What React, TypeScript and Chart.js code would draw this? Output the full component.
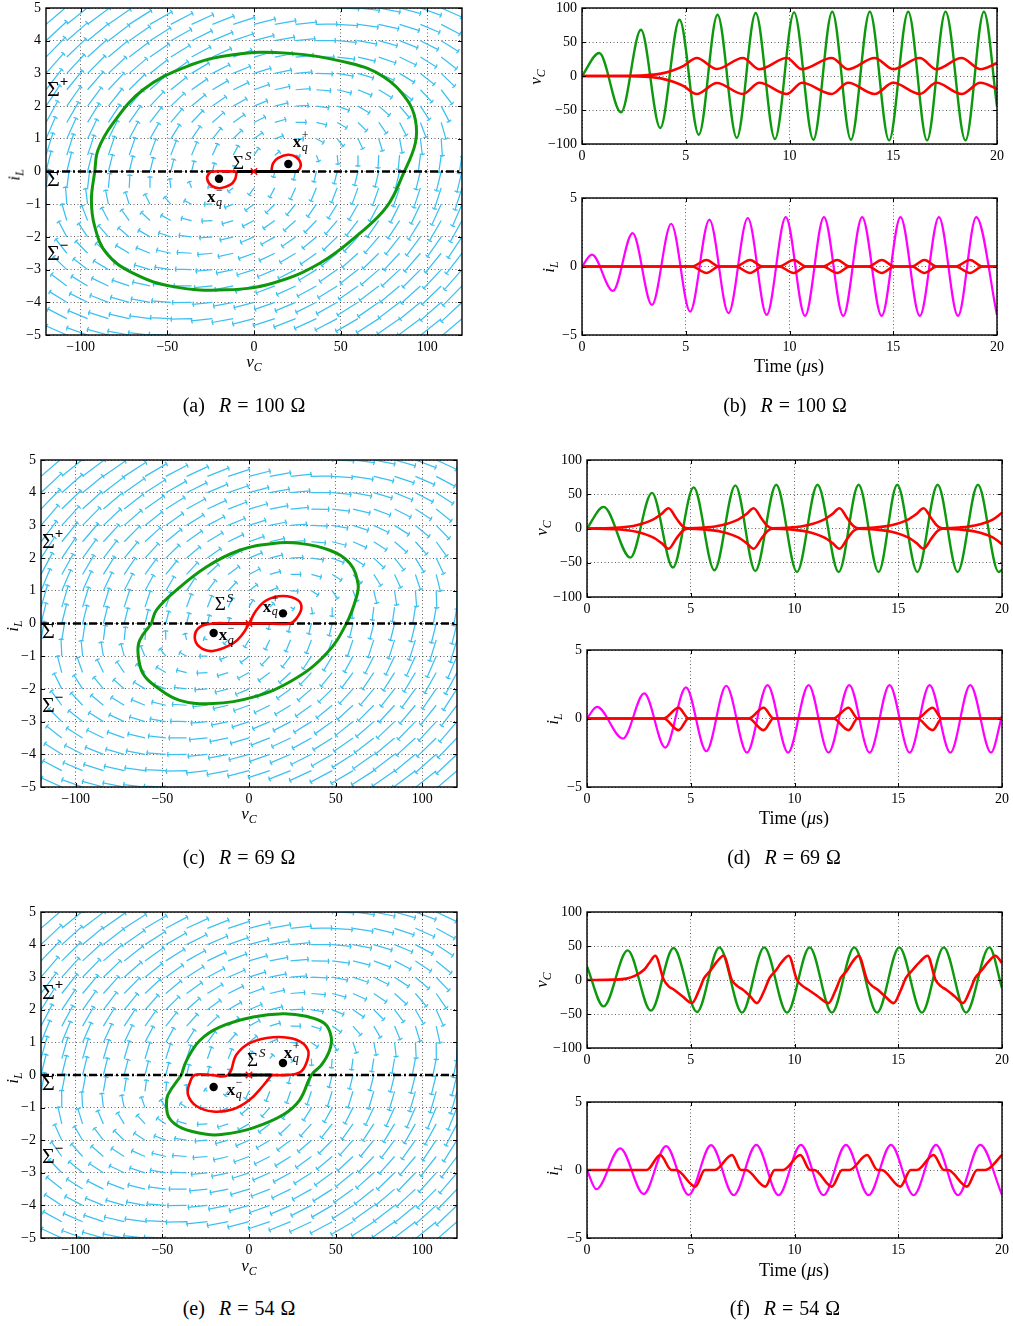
import React, { useEffect, useRef } from 'react';
import { Chart, registerables } from 'chart.js';

Chart.register(...registerables);

const FONT = '"Liberation Serif", "Times New Roman", Times, serif';
const GREEN = '#0e980e';
const RED = '#ff0000';
const MAGENTA = '#ff00ff';
const QUIVER = '#3cc0f0';
const GRID = 'rgba(30,30,30,0.7)';

const PAD_L = 60, PAD_R = 22, PAD_T = 14, PAD_B = 32;

// ---------------- tick labels ----------------
const vTicks = [-100, -50, 0, 50, 100];
const iTicks = [-5, -4, -3, -2, -1, 0, 1, 2, 3, 4, 5];
const tTicks = [0, 5, 10, 15, 20];
const vcTicks = [-100, -50, 0, 50, 100];
const ilTicks = [-5, 0, 5];

// ---------------- phase-plane vector field ----------------
const quiverV = [-120, -108, -96, -84, -72, -60, -48, -36, -24, -12, 0, 12, 24, 36, 48, 60, 72, 84, 96, 108, 120];
const quiverI = [-5, -4.5, -4, -3.5, -3, -2.5, -2, -1.5, -1, -0.5, 0, 0.5, 1, 1.5, 2, 2.5, 3, 3.5, 4, 4.5, 5];
// linear dynamics about the equilibrium of each region: [dv, di] = A [v - vq, i - iq]
const sysA = [-0.18, 26, -0.0385, 0.18];
const ARROW_MAX = 30;
const ARROW_GAMMA = 0.55;

// switching line Sigma (i_L = 0)
const sigmaLineV = [-120, 120];
const sigmaLineI = [0, 0];
const sideLabelI = [2.5, -0.27, -2.53];

// ---------------- (a) R = 100 ----------------
const aEqPlus = [19.8, 0.23];
const aEqMinus = [-20.2, -0.22];
const aGreenV = [-91.9, -93.8, -91.9, -85.1, -69.8, -46.6, -15.8, 11.2, 38.2, 61.3, 76.7, 86.3, 93.1, 93.1, 88.3, 74.7, 55.5, 18.9, -12, -38.9, -64, -81.3, -90, -91.9];
const aGreenI = [0, -0.87, -1.68, -2.5, -3.11, -3.52, -3.62, -3.41, -2.8, -1.88, -1.07, -0.05, 0.87, 1.58, 2.19, 2.9, 3.31, 3.62, 3.57, 3.21, 2.5, 1.48, 0.66, 0];
const aRedLV = [-10, -11, -13.8, -19.6, -24.4, -27, -25.8, -23.5, -10];
const aRedLI = [0, -0.25, -0.41, -0.51, -0.44, -0.23, -0.05, 0, 0];
const aRedRV = [10, 11, 13.8, 19.6, 24.4, 27, 25.8, 23.5, 10];
const aRedRI = [0, 0.25, 0.41, 0.51, 0.44, 0.23, 0.05, 0, 0];
const aSlide = [-10, 26];
const aLabSigmaS = [-12.1, 0.24];
const aLabXqP = [22.3, 0.88];
const aLabXqM = [-27.1, -0.8];

// ---------------- (c) R = 69 ----------------
const cEqPlus = [19.6, 0.31];
const cEqMinus = [-20.4, -0.29];
const cGreenV = [-56.3, -63, -64, -61.2, -53.4, -40, -20.8, 2.3, 25.4, 44.7, 56.2, 62, 62.9, 58.1, 46.6, 29.3, 13.8, -5.4, -24.6, -41.9, -53.4, -56.3];
const cGreenI = [0, -0.51, -0.92, -1.53, -1.94, -2.35, -2.45, -2.25, -1.73, -0.92, 0, 0.81, 1.22, 1.84, 2.24, 2.45, 2.45, 2.24, 1.73, 1.02, 0.41, 0];
const cRedV = [0, 12, 23.5, 27.3, 30.2, 28.3, 19.6, 10, 4.3, 0, -3.5, -9.2, -20.8, -28.4, -31.3, -28.4, -20.8, -10, 0];
const cRedI = [0, 0, 0, 0.15, 0.46, 0.71, 0.84, 0.71, 0.41, 0, -0.31, -0.61, -0.84, -0.72, -0.41, -0.11, 0, 0, 0];
const cSlide = [-21, 25];
const cLabSigmaS = [-19.8, 0.56];
const cLabXqP = [7.9, 0.5];
const cLabXqM = [-17.5, -0.37];

// ---------------- (e) R = 54 ----------------
const eEqPlus = [19.6, 0.37];
const eEqMinus = [-20.4, -0.37];
const eGreenV = [-39, -46.7, -47.6, -46, -39, -24.5, -14.9, 2.4, 19.7, 29.3, 36, 41.7, 46.5, 47.4, 43.6, 33, 19.7, 2.4, -16.9, -28.4, -36, -39];
const eGreenI = [0, -0.6, -0.91, -1.32, -1.62, -1.82, -1.82, -1.62, -1.22, -0.76, 0, 0.3, 0.76, 1.17, 1.58, 1.8, 1.88, 1.78, 1.47, 1.06, 0.45, 0];
const eRedV = [13, 8.1, 0.4, -9.2, -20.8, -30.4, -35.2, -34.2, -31.3, -22, -12.1, -7.3, 0.4, 13.8, 27.3, 34, 33.1, 29.3, 21.6, 13];
const eRedI = [0, -0.33, -0.76, -1.05, -1.12, -0.95, -0.6, -0.25, 0, 0, 0, 0.62, 0.98, 1.16, 1.08, 0.77, 0.37, 0.08, 0, 0];
const eSlide = [-12, 13];
const eLabSigmaS = [-1.2, 0.44];
const eLabXqP = [20, 0.65];
const eLabXqM = [-12.9, -0.47];

// ---------------- (b) R = 100, time series ----------------
const bVcT = [0, 0.83, 1.88, 2.84, 3.77, 4.7, 5.63, 6.53, 7.46, 8.37, 9.3, 10.22, 11.15, 12.06, 12.96, 13.87, 14.8, 15.72, 16.63, 17.52, 18.48, 19.37, 20];
const bVcGreen = [0, 33.8, -53.5, 68, -76.5, 82.8, -86.3, 90, -91, 92.6, -92.6, 93.5, -93.7, 94.5, -93.7, 94.5, -94.7, 94.5, -94.7, 94.5, -94.7, 94.5, -44.7];
const bRedT = [0, 2.0, 3.0, 3.8, 4.4, 4.9, 5.53, 6.5, 7.75, 8.55, 9.87, 10.6, 12.03, 12.83, 14.1, 15.0, 16.28, 17.08, 18.29, 19.2, 20];
const bRedUp = [0, 0.3, 1, 3.5, 8.5, 15, 26.5, 10.3, 26.5, 10, 26.5, 10, 26.5, 10, 26.5, 10, 26.5, 10, 26.5, 10, 19];
const bRedLo = [0, -0.3, -1, -3.5, -8.5, -15, -26.5, -10.3, -26.5, -10, -26.5, -10, -26.5, -10, -26.5, -10, -26.5, -10, -26.5, -10, -19];
const bIlT = [0, 0.48, 1.49, 2.44, 3.37, 4.3, 5.21, 6.14, 7.06, 7.99, 8.9, 9.82, 10.75, 11.66, 12.59, 13.5, 14.44, 15.35, 16.28, 17.2, 18.12, 19.0, 20];
const bIl = [0, 0.86, -1.78, 2.44, -2.8, 3.12, -3.29, 3.42, -3.41, 3.54, -3.53, 3.61, -3.61, 3.61, -3.61, 3.61, -3.61, 3.61, -3.61, 3.61, -3.61, 3.61, -3.55];
const bIlRedT = [0, 5.3, 6.0, 6.6, 7.4, 8.1, 8.7, 9.5, 10.2, 10.8, 11.6, 12.3, 12.9, 13.8, 14.45, 15.05, 15.9, 16.5, 17.1, 18.0, 18.7, 19.3, 20];
const bIlRedUp = [0, 0, 0.47, 0, 0, 0.47, 0, 0, 0.47, 0, 0, 0.47, 0, 0, 0.47, 0, 0, 0.47, 0, 0, 0.47, 0, 0];
const bIlRedLo = [0, 0, -0.47, 0, 0, -0.47, 0, 0, -0.47, 0, 0, -0.47, 0, 0, -0.47, 0, 0, -0.47, 0, 0, -0.47, 0, 0];

// ---------------- (d) R = 69, time series ----------------
const dVcT = [0, 0.8, 2.09, 3.13, 4.14, 5.14, 6.14, 7.15, 8.11, 9.12, 10.12, 11.11, 12.13, 13.09, 14.05, 14.95, 15.92, 16.9, 17.86, 18.84, 19.84, 20];
const dVcGreen = [0, 31.6, -42.5, 52, -57, 60, -61, 63, -62, 63.8, -63.5, 63.8, -63.5, 63.8, -63.5, 63.8, -63.5, 63.8, -63.5, 63.8, -63.5, -60];
const dRedT = [0, 1.58, 2.38, 3.18, 3.58, 3.93, 4.3, 4.6, 4.85, 5.68, 6.48, 7.28, 7.68, 8.03, 8.4, 8.7, 8.95, 9.82, 10.62, 11.42, 11.82, 12.17, 12.54, 12.84, 13.09, 13.87, 14.67, 15.47, 15.87, 16.22, 16.59, 16.89, 17.14, 17.95, 18.75, 19.55, 20];
const dRedUp = [0, 1.5, 4.8, 13, 21, 29.5, 15, 3.5, 0.3, 1.5, 4.8, 13, 21, 29.5, 15, 3.5, 0.3, 1.5, 4.8, 13, 21, 29.5, 15, 3.5, 0.3, 1.5, 4.8, 13, 21, 29.5, 15, 3.5, 0.3, 1.5, 4.8, 13, 23];
const dRedLo = [0, -1.5, -4.8, -13, -21, -29.5, -15, -3.5, -0.3, -1.5, -4.8, -13, -21, -29.5, -15, -3.5, -0.3, -1.5, -4.8, -13, -21, -29.5, -15, -3.5, -0.3, -1.5, -4.8, -13, -21, -29.5, -15, -3.5, -0.3, -1.5, -4.8, -13, -23];
const dIlT = [0, 0.48, 1.73, 2.76, 3.77, 4.77, 5.75, 6.71, 7.71, 8.7, 9.69, 10.68, 11.64, 12.64, 13.62, 14.58, 15.55, 16.51, 17.51, 18.47, 19.47, 20];
const dIl = [0, 0.85, -1.46, 1.83, -2.12, 2.27, -2.39, 2.39, -2.49, 2.44, -2.49, 2.44, -2.49, 2.44, -2.49, 2.44, -2.49, 2.44, -2.49, 2.44, -2.49, 0.2];
const dIlRedT = [0, 3.69, 4.41, 4.9, 7.79, 8.51, 8.99, 11.86, 12.61, 13.04, 15.9, 16.66, 17.1, 20];
const dIlRedUp = [0, 0, 0.78, 0, 0, 0.78, 0, 0, 0.78, 0, 0, 0.78, 0, 0];
const dIlRedLo = [0, 0, -0.85, 0, 0, -0.85, 0, 0, -0.85, 0, 0, -0.85, 0, 0];

// ---------------- (f) R = 54, time series ----------------
const fVcT = [0, 0.8, 1.96, 3.08, 4.17, 5.3, 6.38, 7.47, 8.54, 9.64, 10.73, 11.8, 12.88, 13.98, 15.05, 16.14, 17.19, 18.27, 19.39, 20];
const fVcGreen = [20, -38.8, 43.5, -45.1, 47, -47, 48, -48, 48, -48, 48, -48, 48, -48, 48, -48, 48, -48, 48, -11.8];
const fRedT = [0, 1.3, 1.9, 2.3, 2.75, 3.0, 3.29, 3.7, 3.94, 4.18, 4.58, 5.06, 5.4, 5.65, 5.95, 6.26, 6.58, 6.98, 7.25, 7.5, 7.85, 8.19, 8.55, 8.8, 9.1, 9.4, 9.72, 10.12, 10.4, 10.65, 11.1, 11.64, 11.98, 12.23, 12.53, 12.8, 13.09, 13.5, 13.75, 14.0, 14.35, 14.78, 15.12, 15.37, 15.67, 16.05, 16.41, 16.8, 17.05, 17.3, 17.7, 18.12, 18.46, 18.71, 19.01, 19.35, 19.68, 20];
const fRed = [0, 0.5, 2, 6, 15, 25, 35.7, 0.4, -9.3, -14, -23.5, -33.8, -15, 3, 14, 27, 35.7, 0, -9, -14, -23.5, -34, -15, 3, 14, 27, 35.7, 0, -9, -14, -23.5, -34, -15, 3, 14, 27, 35.7, 0, -9, -14, -23.5, -34, -15, 3, 14, 27, 35.7, 0, -9, -14, -23.5, -34, -15, 3, 14, 27, 35.7, 25];
const fIlT = [0, 0.45, 1.6, 2.73, 3.81, 4.9, 5.98, 7.07, 8.16, 9.23, 10.31, 11.4, 12.48, 13.57, 14.65, 15.74, 16.82, 17.88, 18.95, 20];
const fIl = [0, -1.41, 1.59, -1.76, 1.76, -1.83, 1.83, -1.85, 1.85, -1.85, 1.85, -1.85, 1.85, -1.85, 1.85, -1.85, 1.85, -1.85, 1.85, -1.83];
const fIlRedT = [0, 2.88, 3.53, 4.07, 4.3, 5.22, 5.68, 6.16, 6.99, 7.42, 7.66, 8.59, 9.05, 9.45, 10.28, 10.75, 10.95, 11.8, 12.3, 12.65, 13.5, 14.0, 14.2, 15.1, 15.6, 15.9, 16.7, 17.2, 17.4, 18.31, 18.8, 19.2, 20];
const fIlRed = [0, 0, 1.1, 0, 0, -1.22, 0, 0, 1.1, 0, 0, -1.22, 0, 0, 1.1, 0, 0, -1.22, 0, 0, 1.1, 0, 0, -1.22, 0, 0, 1.1, 0, 0, -1.22, 0, 0, 1.1];

// ---------------- layout boxes (plot areas) ----------------
const BOX_A = { left: 46, top: 8, width: 416, height: 327 };
const BOX_C = { left: 41, top: 460, width: 416, height: 327 };
const BOX_E = { left: 41, top: 912, width: 416, height: 326 };
const BOX_B1 = { left: 582, top: 8, width: 415, height: 136 };
const BOX_B2 = { left: 582, top: 198, width: 415, height: 137 };
const BOX_D1 = { left: 587, top: 460, width: 415, height: 137 };
const BOX_D2 = { left: 587, top: 650, width: 415, height: 137 };
const BOX_F1 = { left: 587, top: 912, width: 415, height: 136 };
const BOX_F2 = { left: 587, top: 1102, width: 415, height: 136 };

// ---------------- helpers ----------------
const fmt = (v: number) => (v < 0 ? '\u2212' + Math.abs(v) : String(v));
const pts = (xs: number[], ys: number[]) => xs.map((x, k) => ({ x, y: ys[k] }));

function axis(min: number, max: number, ticks: number[], horizontal: boolean) {
  return {
    type: 'linear',
    min,
    max,
    afterBuildTicks: (ax: any) => {
      ax.ticks = ticks.map((value) => ({ value }));
    },
    afterFit: (ax: any) => {
      if (horizontal) ax.height = PAD_B;
      else ax.width = PAD_L;
    },
    ticks: {
      callback: (v: any) => fmt(Number(v)),
      font: { family: FONT, size: 14 },
      color: '#000',
      padding: horizontal ? 4 : 5,
      maxRotation: 0,
      minRotation: 0,
      autoSkip: false,
    },
    grid: { color: GRID, lineWidth: 1, drawTicks: false },
    border: { display: false, dash: [1, 2.5] },
  };
}

const framePlugin = {
  id: 'frame',
  afterDatasetsDraw(chart: any) {
    const { ctx, chartArea: a } = chart;
    const xs = chart.scales.x, ys = chart.scales.y;
    ctx.save();
    ctx.strokeStyle = '#000';
    ctx.lineWidth = 1;
    ctx.beginPath();
    for (const t of xs.ticks) {
      const p = Math.round(xs.getPixelForValue(t.value)) + 0.5;
      ctx.moveTo(p, a.bottom); ctx.lineTo(p, a.bottom - 4);
      ctx.moveTo(p, a.top); ctx.lineTo(p, a.top + 4);
    }
    for (const t of ys.ticks) {
      const p = Math.round(ys.getPixelForValue(t.value)) + 0.5;
      ctx.moveTo(a.left, p); ctx.lineTo(a.left + 4, p);
      ctx.moveTo(a.right, p); ctx.lineTo(a.right - 4, p);
    }
    ctx.stroke();
    ctx.lineWidth = 1.4;
    ctx.strokeRect(a.left, a.top, a.right - a.left, a.bottom - a.top);
    ctx.restore();
  },
};

function makeQuiverPlugin(A: number[], eqP: number[], eqM: number[]) {
  return {
    id: 'quiver',
    beforeDatasetsDraw(chart: any) {
      const { ctx, chartArea: a } = chart;
      const xs = chart.scales.x, ys = chart.scales.y;
      const pxV = Math.abs(xs.getPixelForValue(1) - xs.getPixelForValue(0));
      const pxI = Math.abs(ys.getPixelForValue(1) - ys.getPixelForValue(0));
      const gV = quiverV[1] - quiverV[0];
      const gI = quiverI[1] - quiverI[0];
      const arrows: number[][] = [];
      let maxG = 0;
      for (const v of quiverV) {
        for (const i of quiverI) {
          const eq = i > 0 ? eqP : i < 0 ? eqM : [0, 0];
          const dv = A[0] * (v - eq[0]) + A[1] * (i - eq[1]);
          const di = A[2] * (v - eq[0]) + A[3] * (i - eq[1]);
          const g = Math.hypot(dv / gV, di / gI);
          if (g > maxG) maxG = g;
          arrows.push([v, i, dv, di, g]);
        }
      }
      ctx.save();
      ctx.beginPath();
      ctx.rect(a.left, a.top, a.right - a.left, a.bottom - a.top);
      ctx.clip();
      ctx.strokeStyle = QUIVER;
      ctx.lineWidth = 1.25;
      ctx.beginPath();
      for (const [v, i, dv, di, g] of arrows) {
        const x0 = xs.getPixelForValue(v), y0 = ys.getPixelForValue(i);
        let ux = dv * pxV, uy = -di * pxI;
        const n = Math.hypot(ux, uy);
        if (n === 0) continue;
        ux /= n; uy /= n;
        const L = ARROW_MAX * Math.pow(g / maxG, ARROW_GAMMA);
        const x1 = x0 + ux * L, y1 = y0 + uy * L;
        ctx.moveTo(x0, y0); ctx.lineTo(x1, y1);
        const hx = -uy, hy = ux;
        ctx.moveTo(x1 - ux * 0.8 + hx * 2.6, y1 - uy * 0.8 + hy * 2.6);
        ctx.lineTo(x1, y1);
        ctx.lineTo(x1 - ux * 0.8 - hx * 2.6, y1 - uy * 0.8 - hy * 2.6);
      }
      ctx.stroke();
      ctx.restore();
    },
  };
}

function makeAnnotPlugin(sigmaS: number[], xqP: number[], xqM: number[]) {
  return {
    id: 'annot',
    afterDatasetsDraw(chart: any) {
      const { ctx, chartArea: a } = chart;
      const xs = chart.scales.x, ys = chart.scales.y;
      ctx.save();
      ctx.fillStyle = '#000';
      ctx.textBaseline = 'middle';
      ctx.textAlign = 'left';
      const sups = ['+', '', '\u2212'];
      sideLabelI.forEach((iv, k) => {
        const y = ys.getPixelForValue(iv);
        ctx.font = `22px ${FONT}`;
        ctx.fillText('\u03A3', a.left + 1, y);
        const w = ctx.measureText('\u03A3').width;
        if (sups[k]) {
          ctx.font = `bold 15px ${FONT}`;
          ctx.fillText(sups[k], a.left + 1 + w, y - 8);
        }
      });
      let x = xs.getPixelForValue(sigmaS[0]);
      let y = ys.getPixelForValue(sigmaS[1]);
      ctx.font = `19px ${FONT}`;
      ctx.fillText('\u03A3', x, y);
      let w = ctx.measureText('\u03A3').width;
      ctx.font = `italic 13px ${FONT}`;
      ctx.fillText('S', x + w + 1, y - 7);
      const items: any[] = [[xqP, '+'], [xqM, '\u2212']];
      for (const [pos, sup] of items) {
        x = xs.getPixelForValue(pos[0]);
        y = ys.getPixelForValue(pos[1]);
        ctx.font = `bold 17px ${FONT}`;
        ctx.fillText('x', x, y);
        w = ctx.measureText('x').width;
        ctx.font = `12px ${FONT}`;
        ctx.fillText(sup, x + w + 0.5, y - 7);
        ctx.font = `italic 12px ${FONT}`;
        ctx.fillText('q', x + w + 0.5, y + 5);
      }
      ctx.restore();
    },
  };
}

function baseOptions(xAxis: any, yAxis: any) {
  return {
    animation: false,
    responsive: false,
    maintainAspectRatio: false,
    events: [],
    layout: { padding: { top: PAD_T, right: PAD_R, left: 0, bottom: 0 } },
    plugins: { legend: { display: false }, tooltip: { enabled: false } },
    scales: { x: xAxis, y: yAxis },
  };
}

function phaseConfig(s: any) {
  const loops = s.loops.map((lp: number[][]) => ({
    data: pts(lp[0], lp[1]),
    showLine: true,
    pointRadius: 0,
    borderColor: RED,
    borderWidth: 2.6,
    tension: 0.4,
    order: 3,
  }));
  const datasets = [
    {
      data: [{ x: 0, y: 0 }],
      showLine: false,
      pointStyle: 'crossRot',
      pointRadius: 4.5,
      pointBorderColor: RED,
      pointBackgroundColor: RED,
      pointBorderWidth: 1.5,
      order: 0,
    },
    {
      data: [{ x: s.eqM[0], y: s.eqM[1] }, { x: s.eqP[0], y: s.eqP[1] }],
      showLine: false,
      pointStyle: 'circle',
      pointRadius: 4.2,
      pointBackgroundColor: '#000',
      pointBorderColor: '#000',
      pointBorderWidth: 0,
      order: 1,
    },
    {
      data: pts(s.slide, sigmaLineI),
      showLine: true,
      pointRadius: 0,
      borderColor: '#000',
      borderWidth: 3,
      order: s.slideOnTop ? 2 : 4,
    },
    ...loops,
    {
      data: pts(sigmaLineV, sigmaLineI),
      showLine: true,
      pointRadius: 0,
      borderColor: '#000',
      borderWidth: 2.4,
      borderDash: [8, 3, 2, 3],
      order: 5,
    },
    {
      data: pts(s.greenV, s.greenI),
      showLine: true,
      pointRadius: 0,
      borderColor: GREEN,
      borderWidth: 3,
      tension: 0.4,
      order: 6,
    },
  ];
  return {
    type: 'scatter',
    data: { datasets },
    options: baseOptions(axis(-120, 120, vTicks, true), axis(-5, 5, iTicks, false)),
    plugins: [makeQuiverPlugin(sysA, s.eqP, s.eqM), framePlugin, makeAnnotPlugin(s.labSigmaS, s.labXqP, s.labXqM)],
  };
}

function timeConfig(yMin: number, yMax: number, yTicks: number[], series: any[]) {
  const datasets = series.map((s, k) => ({
    data: pts(s.t, s.y),
    showLine: true,
    pointRadius: 0,
    borderColor: s.c,
    borderWidth: s.w,
    cubicInterpolationMode: 'monotone',
    order: k,
  }));
  return {
    type: 'scatter',
    data: { datasets },
    options: baseOptions(axis(0, 20, tTicks, true), axis(yMin, yMax, yTicks, false)),
    plugins: [framePlugin],
  };
}

function ChartBox({ box, make }: { box: any; make: () => any }) {
  const ref = useRef<HTMLCanvasElement>(null);
  useEffect(() => {
    const chart = new Chart(ref.current as HTMLCanvasElement, make());
    return () => chart.destroy();
  }, []);
  const w = box.width + PAD_L + PAD_R;
  const h = box.height + PAD_T + PAD_B;
  return (
    <canvas
      ref={ref}
      width={w}
      height={h}
      style={{ position: 'absolute', left: box.left - PAD_L, top: box.top - PAD_T, width: w, height: h }}
    />
  );
}

function TextAt({ x, y, rotate, size, children }: any) {
  return (
    <div
      style={{
        position: 'absolute',
        left: x,
        top: y,
        transform: `translate(-50%, -50%)${rotate ? ' rotate(-90deg)' : ''}`,
        fontFamily: FONT,
        fontSize: size,
        lineHeight: 1,
        whiteSpace: 'nowrap',
        color: '#000',
      }}
    >
      {children}
    </div>
  );
}

function Sym({ b, s }: { b: string; s: string }) {
  return (
    <span>
      <i>{b}</i>
      <i style={{ fontSize: '0.7em', position: 'relative', top: '0.3em' }}>{s}</i>
    </span>
  );
}

function Caption({ x, y, tag, r }: any) {
  return (
    <div
      style={{
        position: 'absolute',
        left: x - 120,
        top: y - 12,
        width: 240,
        textAlign: 'center',
        fontFamily: FONT,
        fontSize: 20,
        lineHeight: '24px',
        whiteSpace: 'nowrap',
        wordSpacing: 1,
      }}
    >
      ({tag})<span style={{ display: 'inline-block', width: 14 }} />
      <i>R</i> = {r} Ω
    </div>
  );
}

const specA = { greenV: aGreenV, greenI: aGreenI, loops: [[aRedLV, aRedLI], [aRedRV, aRedRI]], slide: aSlide, slideOnTop: true, eqP: aEqPlus, eqM: aEqMinus, labSigmaS: aLabSigmaS, labXqP: aLabXqP, labXqM: aLabXqM };
const specC = { greenV: cGreenV, greenI: cGreenI, loops: [[cRedV, cRedI]], slide: cSlide, slideOnTop: false, eqP: cEqPlus, eqM: cEqMinus, labSigmaS: cLabSigmaS, labXqP: cLabXqP, labXqM: cLabXqM };
const specE = { greenV: eGreenV, greenI: eGreenI, loops: [[eRedV, eRedI]], slide: eSlide, slideOnTop: true, eqP: eEqPlus, eqM: eEqMinus, labSigmaS: eLabSigmaS, labXqP: eLabXqP, labXqM: eLabXqM };

export default function App() {
  return (
    <div style={{ position: 'absolute', left: 0, top: 0, width: 1013, height: 1326, background: '#fff', overflow: 'hidden' }}>
      <ChartBox box={BOX_A} make={() => phaseConfig(specA)} />
      <ChartBox box={BOX_C} make={() => phaseConfig(specC)} />
      <ChartBox box={BOX_E} make={() => phaseConfig(specE)} />

      <ChartBox box={BOX_B1} make={() => timeConfig(-100, 100, vcTicks, [
        { t: bRedT, y: bRedUp, c: RED, w: 2.6 },
        { t: bRedT, y: bRedLo, c: RED, w: 2.6 },
        { t: bVcT, y: bVcGreen, c: GREEN, w: 2.4 },
      ])} />
      <ChartBox box={BOX_B2} make={() => timeConfig(-5, 5, ilTicks, [
        { t: bIlRedT, y: bIlRedUp, c: RED, w: 2.6 },
        { t: bIlRedT, y: bIlRedLo, c: RED, w: 2.6 },
        { t: bIlT, y: bIl, c: MAGENTA, w: 2.2 },
      ])} />
      <ChartBox box={BOX_D1} make={() => timeConfig(-100, 100, vcTicks, [
        { t: dRedT, y: dRedUp, c: RED, w: 2.6 },
        { t: dRedT, y: dRedLo, c: RED, w: 2.6 },
        { t: dVcT, y: dVcGreen, c: GREEN, w: 2.4 },
      ])} />
      <ChartBox box={BOX_D2} make={() => timeConfig(-5, 5, ilTicks, [
        { t: dIlRedT, y: dIlRedUp, c: RED, w: 2.6 },
        { t: dIlRedT, y: dIlRedLo, c: RED, w: 2.6 },
        { t: dIlT, y: dIl, c: MAGENTA, w: 2.2 },
      ])} />
      <ChartBox box={BOX_F1} make={() => timeConfig(-100, 100, vcTicks, [
        { t: fRedT, y: fRed, c: RED, w: 2.6 },
        { t: fVcT, y: fVcGreen, c: GREEN, w: 2.4 },
      ])} />
      <ChartBox box={BOX_F2} make={() => timeConfig(-5, 5, ilTicks, [
        { t: fIlRedT, y: fIlRed, c: RED, w: 2.6 },
        { t: fIlT, y: fIl, c: MAGENTA, w: 2.2 },
      ])} />

      <TextAt x={254} y={361} size={17}><Sym b="v" s="C" /></TextAt>
      <TextAt x={249} y={813} size={17}><Sym b="v" s="C" /></TextAt>
      <TextAt x={249} y={1265} size={17}><Sym b="v" s="C" /></TextAt>
      <TextAt x={14} y={175} size={17} rotate><Sym b="i" s="L" /></TextAt>
      <TextAt x={12} y={626} size={17} rotate><Sym b="i" s="L" /></TextAt>
      <TextAt x={12} y={1078} size={17} rotate><Sym b="i" s="L" /></TextAt>

      <TextAt x={535} y={77} size={17} rotate><Sym b="v" s="C" /></TextAt>
      <TextAt x={541} y={528} size={17} rotate><Sym b="v" s="C" /></TextAt>
      <TextAt x={541} y={980} size={17} rotate><Sym b="v" s="C" /></TextAt>
      <TextAt x={548} y={267} size={17} rotate><Sym b="i" s="L" /></TextAt>
      <TextAt x={552} y={719} size={17} rotate><Sym b="i" s="L" /></TextAt>
      <TextAt x={552} y={1170} size={17} rotate><Sym b="i" s="L" /></TextAt>

      <TextAt x={789} y={366} size={18}>Time (<i>μ</i>s)</TextAt>
      <TextAt x={794} y={818} size={18}>Time (<i>μ</i>s)</TextAt>
      <TextAt x={794} y={1270} size={18}>Time (<i>μ</i>s)</TextAt>

      <Caption x={244} y={405} tag="a" r="100" />
      <Caption x={785} y={405} tag="b" r="100" />
      <Caption x={239} y={857} tag="c" r="69" />
      <Caption x={784} y={857} tag="d" r="69" />
      <Caption x={239} y={1308} tag="e" r="54" />
      <Caption x={785} y={1308} tag="f" r="54" />
    </div>
  );
}
